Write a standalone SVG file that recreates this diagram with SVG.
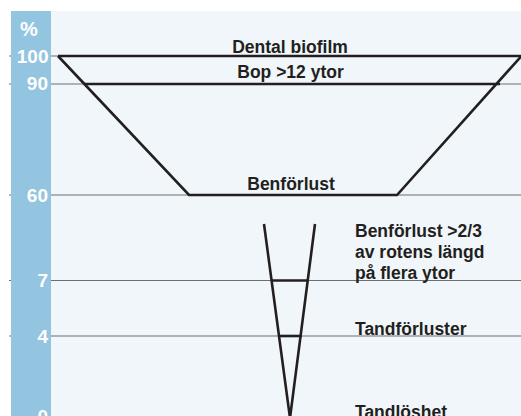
<svg xmlns="http://www.w3.org/2000/svg" width="521" height="416" viewBox="0 0 521 416">
<style>
.grid{stroke:#6d6e70;stroke-width:1.2;fill:none}
.thick{stroke:#231f20;stroke-width:2.6;fill:none;stroke-linejoin:miter}
.axis{font-family:"Liberation Sans",Arial,sans-serif;font-weight:bold;font-size:19px;fill:#ffffff;text-anchor:end}
.lbl{font-family:"Liberation Sans",Arial,sans-serif;font-weight:bold;font-size:17.5px;fill:#231f20}
.mid{text-anchor:middle}
</style>
<rect x="0" y="0" width="521" height="416" fill="#ffffff"/>
<rect x="11" y="11" width="510" height="405" fill="#f0f6fa"/>
<g id="gridlines">
<line class="grid" x1="9" y1="56" x2="521" y2="56"/>
<line class="grid" x1="9" y1="84" x2="521" y2="84"/>
<line class="grid" x1="9" y1="195" x2="521" y2="195"/>
<line class="grid" x1="9" y1="280.5" x2="521" y2="280.5"/>
<line class="grid" x1="9" y1="336" x2="521" y2="336"/>
</g>
<g id="axis">
<rect x="11" y="11" width="40" height="405" fill="#93c5e0"/>
<text class="axis" x="29" y="36" style="text-anchor:middle;font-size:20px">%</text>
<text class="axis" x="48.5" y="62.5">100</text>
<text class="axis" x="48" y="90">90</text>
<text class="axis" x="48" y="201.5">60</text>
<text class="axis" x="48" y="287">7</text>
<text class="axis" x="48" y="343">4</text>
<text class="axis" x="48" y="423">0</text>
</g>
<g id="connectors">
<polyline class="thick" points="58,56 189,195 397,195 521,56.5"/>
<line class="thick" x1="58" y1="56" x2="521" y2="56"/>
<line class="thick" x1="84" y1="84" x2="500" y2="84"/>
<polyline class="thick" points="264,224 290,418 315,224"/>
<line class="thick" x1="272" y1="280.5" x2="307" y2="280.5"/>
<line class="thick" x1="279" y1="336" x2="302" y2="336"/>
</g>
<g id="node-dental">
<text class="lbl mid" x="290" y="53">Dental biofilm</text>
</g>
<g id="node-bop">
<text class="lbl mid" x="290.5" y="78">Bop &gt;12 ytor</text>
</g>
<g id="node-benforlust">
<text class="lbl mid" x="291" y="190">Benförlust</text>
</g>
<g id="node-benforlust23">
<text class="lbl" x="355" y="237">Benförlust &gt;2/3</text>
<text class="lbl" x="355" y="258">av rotens längd</text>
<text class="lbl" x="355" y="278.5">på flera ytor</text>
</g>
<g id="node-tandforluster">
<text class="lbl" x="355" y="335">Tandförluster</text>
</g>
<g id="node-tandloshet">
<text class="lbl" x="355" y="418">Tandlöshet</text>
</g>
</svg>
